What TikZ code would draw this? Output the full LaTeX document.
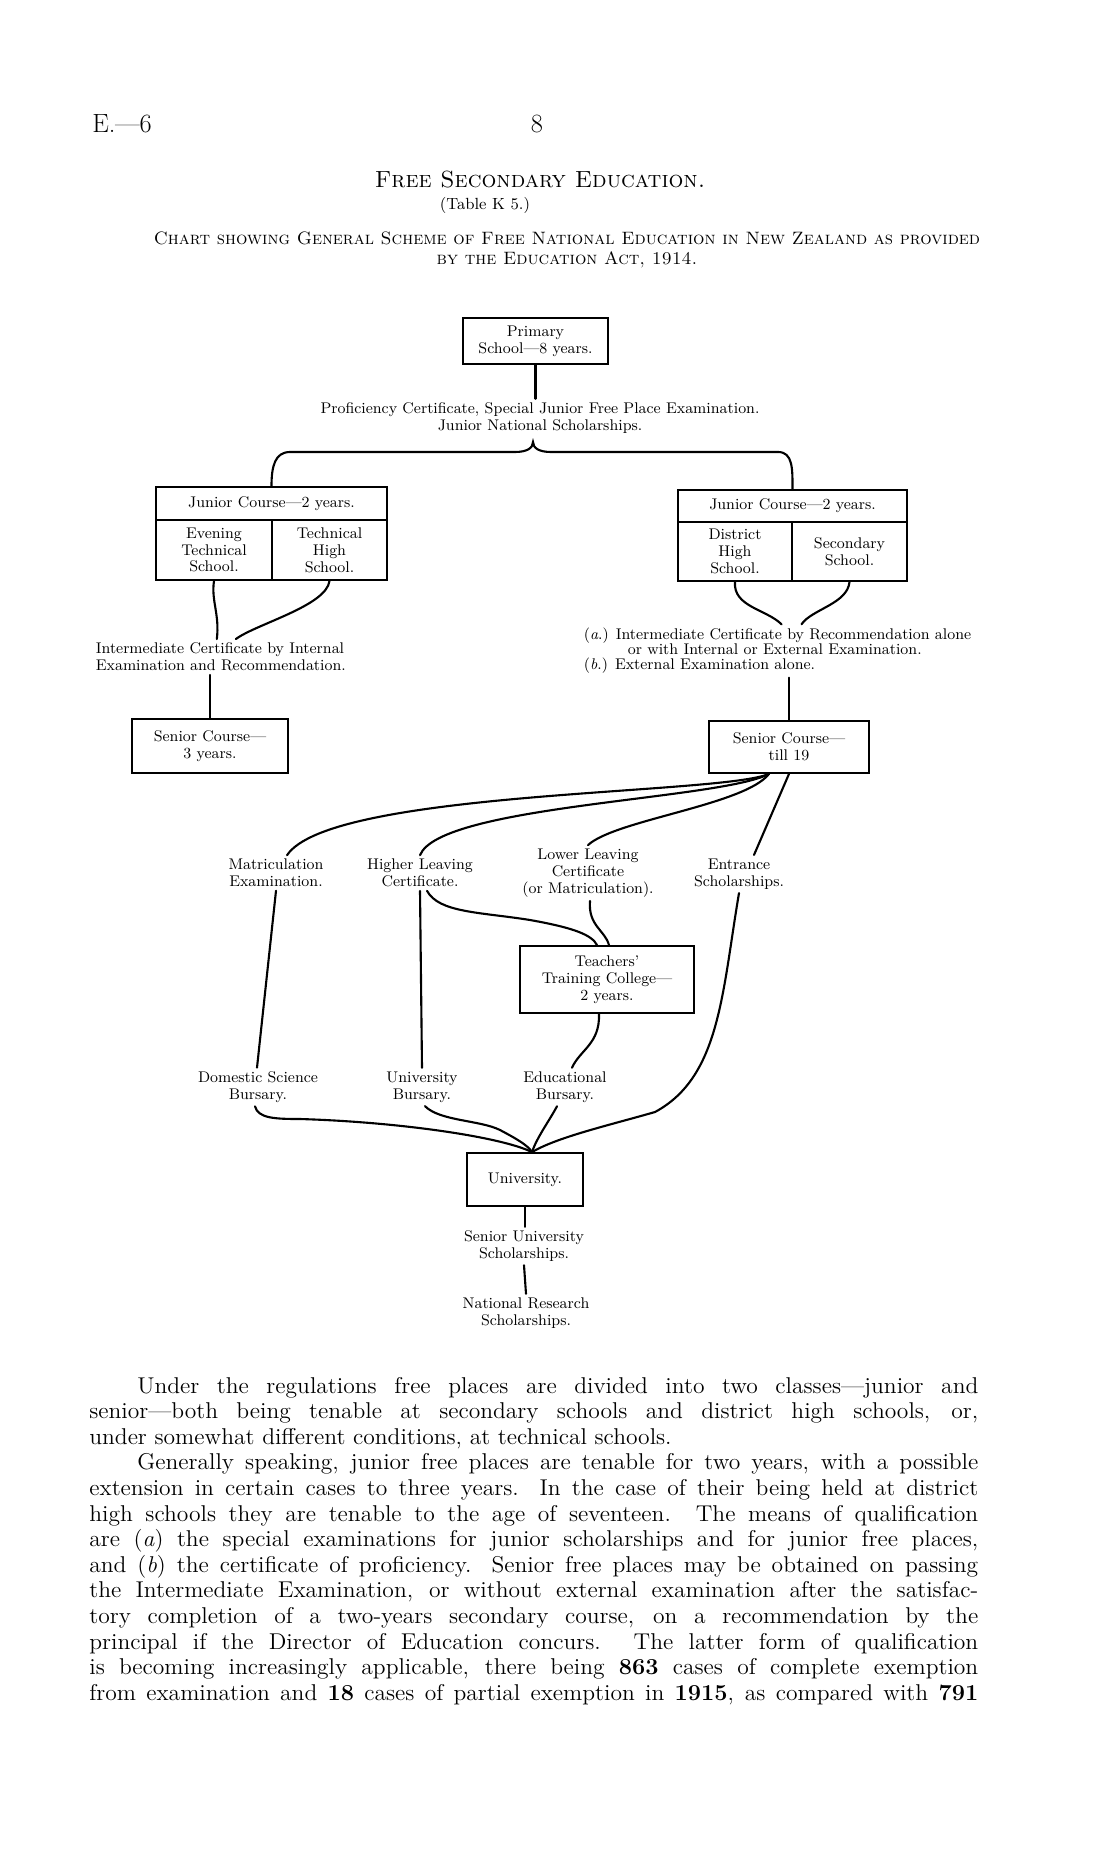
\documentclass[tikz,border=0pt]{standalone}
\usepackage{fontspec}
\usepackage{graphicx}
\usetikzlibrary{calc}

\newcommand\chartfont{\fontsize{8.8}{9.6}\selectfont}
\newcommand\bodyfont{\fontsize{13}{15}\selectfont}
\newcommand\bodyline[2]{\scalebox{1.03}[1]{\makebox[#1][s]{#2}}}

\tikzset{
  box/.style={draw, line width=1pt, inner sep=0pt, align=center, font=\chartfont},
  lbl/.style={inner sep=2pt, align=center, font=\chartfont},
  link/.style={line width=1.2pt, line cap=round},
  para/.style={anchor=base west, inner sep=0pt, font=\bodyfont},
}

\begin{document}
\begin{tikzpicture}[x=0.2mm, y=-0.2mm]
  \useasboundingbox[fill=white] (0,0) rectangle (1114,1859);

  % page head
  \node[anchor=west, inner sep=0pt, font=\fontsize{15}{17}\selectfont] (pagehead) at (92,124) {E.---6};
  \node[inner sep=0pt, font=\fontsize{15}{17}\selectfont] (pagenum) at (537,124) {8};
  \node[inner sep=0pt, font=\fontsize{13.3}{15}\selectfont] (title) at (540,180) {\textsc{Free Secondary Education.}};
  \node[inner sep=0pt, font=\fontsize{9.2}{10}\selectfont] (tabref) at (485,205) {(Table K 5.)};
  \node[inner sep=0pt, align=center, font=\fontsize{10.2}{11.5}\selectfont] (subtitle) at (567,250)
    {\textsc{Chart showing General Scheme of Free National Education in New Zealand as provided}\\
     \textsc{by the Education Act, 1914.}};

  % boxes
  \node[box, minimum width=29mm, minimum height=9.2mm] (prim) at (535.5,341) {Primary\\School---8 years.};
  \node[lbl] (prof) at (540,418) {Proficiency Certificate, Special Junior Free Place Examination.\\Junior National Scholarships.};

  \node[box, minimum width=46.2mm, minimum height=6.6mm] (jlhead) at (271.5,503.5) {Junior Course---2 years.};
  \node[box, minimum width=23.2mm, minimum height=12mm] (evening) at (214,550) {Evening\\Technical\\School.};
  \node[box, minimum width=23mm, minimum height=12mm] (techhigh) at (329.5,550) {Technical\\High\\School.};

  \node[box, minimum width=45.8mm, minimum height=6.4mm] (jrhead) at (792.5,506) {Junior Course---2 years.};
  \node[box, minimum width=22.8mm, minimum height=11.8mm] (district) at (735,551.5) {District\\High\\School.};
  \node[box, minimum width=23mm, minimum height=11.8mm] (secondary) at (849.5,551.5) {Secondary\\School.};

  \node[lbl, anchor=west, align=left] (intl) at (92,657) {Intermediate Certificate by Internal\\Examination and Recommendation.};
  \node[lbl, anchor=west, align=left, font=\fontsize{8.8}{8.6}\selectfont] (rint) at (580,651)
    {(\textit{a}.) Intermediate Certificate by Recommendation alone\\
     \hspace*{8.8mm}or with Internal or External Examination.\\
     (\textit{b}.) External Examination alone.};

  \node[box, minimum width=31.2mm, minimum height=10.8mm] (lsen) at (210,746) {Senior Course---\\3 years.};
  \node[box, minimum width=32mm, minimum height=10.4mm] (rsen) at (789,747) {Senior Course---\\till 19};

  \node[lbl] (matric) at (276,873) {Matriculation\\Examination.};
  \node[lbl] (hlc) at (420,873) {Higher Leaving\\Certificate.};
  \node[lbl] (llc) at (588,873) {Lower Leaving\\Certificate\\(or Matriculation).};
  \node[lbl] (entr) at (739,874) {Entrance\\Scholarships.};

  \node[box, minimum width=34.8mm, minimum height=13.4mm] (ttc) at (607,979.5) {Teachers'\\Training College---\\2 years.};

  \node[lbl] (dsb) at (258,1087) {Domestic Science\\Bursary.};
  \node[lbl] (ubur) at (422,1087) {University\\Bursary.};
  \node[lbl] (ebur) at (565,1087) {Educational\\Bursary.};

  \node[box, minimum width=23.2mm, minimum height=10.6mm] (univ) at (525,1179.5) {University.};
  \node[lbl] (sus) at (524,1246) {Senior University\\Scholarships.};
  \node[lbl] (nrs) at (526,1313) {National Research\\Scholarships.};

  % connectors
  \coordinate (tip) at (533,442);
  \coordinate (fan) at ($(rsen.south)+(-20,0)$);
  \coordinate (ujoin) at ($(univ.north)+(7,0)$);

  \draw[link] (prim.south) -- (prim.south |- prof.north);
  \draw[link] (jlhead.north) .. controls +(0,-20) and +(-15,0) .. (290,452) -- (515,452)
    .. controls +(12,0) and +(0,6) .. (tip) .. controls +(0,6) and +(-12,0) .. (551,452)
    -- (778,452) .. controls +(15,0) and +(0,-20) .. (jrhead.north);

  \draw[link] (evening.south) .. controls +(-3,20) and +(3,-25) .. ($(intl.north)+(-4,0)$);
  \draw[link] (techhigh.south) .. controls +(-3,25) and +(20,-15) .. ($(intl.north)+(15,0)$);
  \draw[link] (lsen.north |- intl.south) -- (lsen.north);

  \draw[link] (district.south) .. controls +(-2,25) and +(-15,-15) .. ($(rint.north)+(4,0)$);
  \draw[link] (secondary.south) .. controls +(-2,22) and +(10,-15) .. ($(rint.north)+(24,0)$);
  \draw[link] (rsen.north |- rint.south) -- (rsen.north);

  \draw[link] (fan) .. controls (720,795) and (330,790) .. ($(matric.north)+(11,0)$);
  \draw[link] (fan) .. controls (720,800) and (440,805) .. (hlc.north);
  \draw[link] (fan) .. controls (745,805) and (615,820) .. (llc.north);
  \draw[link] (rsen.south) -- ($(entr.north)+(15,0)$);

  \draw[link] (matric.south) -- ($(dsb.north)+(-1,0)$);
  \draw[link] (hlc.south) -- (ubur.north);
  \draw[link] ($(hlc.south)+(7,0)$) .. controls +(12,22) and +(-50,-8) .. (530,920)
    .. controls +(45,8) and +(-5,-10) .. ($(ttc.north)+(-10,0)$);
  \draw[link] ($(llc.south)+(2,0)$) .. controls +(-2,25) and +(-4,-15) .. ($(ttc.north)+(2,0)$);
  \draw[link] ($(ttc.south)+(-8,0)$) .. controls +(1,30) and +(8,-18) .. ($(ebur.north)+(7,0)$);

  \draw[link] (entr.south) .. controls +(-17,100) and +(65,-35) .. (655,1112)
    .. controls +(-45,13) and +(25,-15) .. (ujoin);
  \draw[link] ($(dsb.south)+(-3,0)$) .. controls +(3,12) and +(-25,0) .. (300,1119)
    .. controls +(100,3) and +(-30,-15) .. (ujoin);
  \draw[link] ($(ubur.south)+(3,0)$) .. controls +(15,15) and +(-20,-10) .. (500,1130)
    .. controls +(15,8) and +(-4,-7) .. (ujoin);
  \draw[link] ($(ebur.south)+(-8,0)$) .. controls +(-8,15) and +(5,-15) .. (ujoin);

  \draw[link] (univ.south) -- (univ.south |- sus.north);
  \draw[link] (sus.south) -- (nrs.north);

  % letterpress
  \node[para] (p1) at (137,1393) {\bodyline{163.3mm}{Under the regulations free places are divided into two classes---junior and}};
  \node[para] (p2) at (89,1418.6) {\bodyline{172.6mm}{senior---both being tenable at secondary schools and district high schools, or,}};
  \node[para] (p3) at (89,1444.2) {\scalebox{1.03}[1]{under somewhat different conditions, at technical schools.}};
  \node[para] (p4) at (137,1469.8) {\bodyline{163.3mm}{Generally speaking, junior free places are tenable for two years, with a possible}};
  \node[para] (p5) at (89,1495.4) {\bodyline{172.6mm}{extension in certain cases to three years. In the case of their being held at district}};
  \node[para] (p6) at (89,1521) {\bodyline{172.6mm}{high schools they are tenable to the age of seventeen. The means of qualification}};
  \node[para] (p7) at (89,1546.6) {\bodyline{172.6mm}{are (\textit{a}) the special examinations for junior scholarships and for junior free places,}};
  \node[para] (p8) at (89,1572.2) {\bodyline{172.6mm}{and (\textit{b}) the certificate of proficiency. Senior free places may be obtained on passing}};
  \node[para] (p9) at (89,1597.8) {\bodyline{172.6mm}{the Intermediate Examination, or without external examination after the satisfac-}};
  \node[para] (p10) at (89,1623.4) {\bodyline{172.6mm}{tory completion of a two-years secondary course, on a recommendation by the}};
  \node[para] (p11) at (89,1649) {\bodyline{172.6mm}{principal if the Director of Education concurs. The latter form of qualification}};
  \node[para] (p12) at (89,1674.6) {\bodyline{172.6mm}{is becoming increasingly applicable, there being \textbf{863} cases of complete exemption}};
  \node[para] (p13) at (89,1700.2) {\bodyline{172.6mm}{from examination and \textbf{18} cases of partial exemption in \textbf{1915}, as compared with \textbf{791}}};
\end{tikzpicture}
\end{document}
